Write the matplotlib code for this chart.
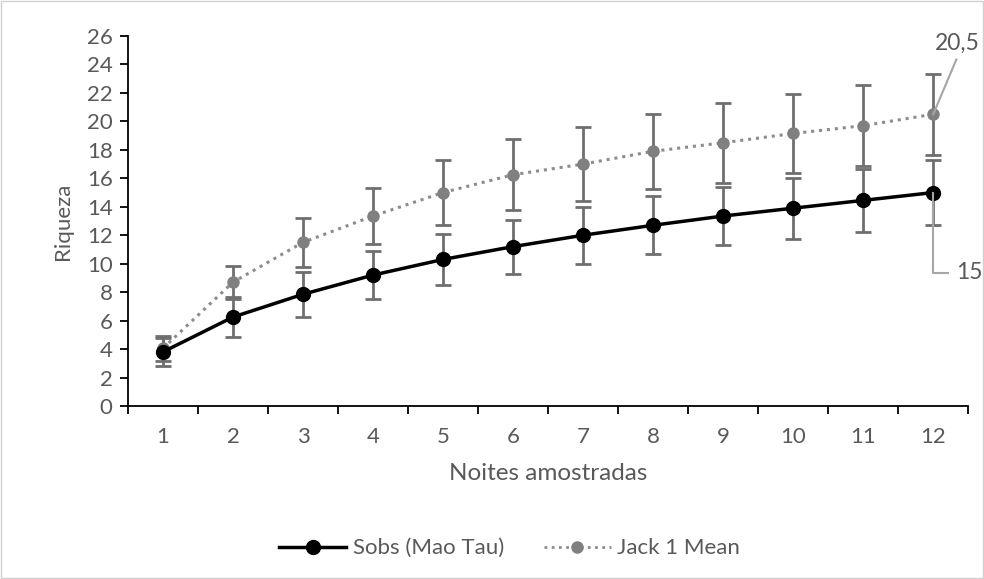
import matplotlib.pyplot as plt
from matplotlib.lines import Line2D
from matplotlib.patches import Rectangle
import numpy as np

plt.rcParams['font.family'] = ['Lato', 'DejaVu Sans']

# Data
nights = [1, 2, 3, 4, 5, 6, 7, 8, 9, 10, 11, 12]
sobs = [3.8, 6.25, 7.85, 9.2, 10.3, 11.2, 12.0, 12.7, 13.35, 13.9, 14.45, 15.0]
sobs_sd = [1.0, 1.4, 1.6, 1.7, 1.8, 1.9, 2.0, 2.05, 2.05, 2.15, 2.2, 2.3]
jack = [4.05, 8.7, 11.5, 13.35, 15.0, 16.25, 17.0, 17.9, 18.5, 19.15, 19.7, 20.5]
jack_sd = [0.9, 1.16, 1.7, 2.0, 2.3, 2.5, 2.6, 2.65, 2.8, 2.8, 2.85, 2.85]
y_ticks = list(range(0, 27, 2))

txt = '#595959'
err_col = '#6f6f6f'
lead = '#a6a6a6'

fig = plt.figure(figsize=(9.84, 5.79), dpi=100)
ax = fig.add_axes([0.130, 0.2988, 0.854, 0.639])

# Jack 1 (grey dotted)
ax.errorbar(nights, jack, yerr=jack_sd, fmt='none', ecolor=err_col, elinewidth=2,
            capsize=6, capthick=2, zorder=2)
ax.plot(nights, jack, color='#8c8c8c', lw=2.2, ls=(0, (1, 1.6)), marker='o',
        markersize=8, markerfacecolor='#808080', markeredgecolor='#808080', zorder=3)

# Sobs (black solid)
ax.errorbar(nights, sobs, yerr=sobs_sd, fmt='none', ecolor=err_col, elinewidth=2,
            capsize=6, capthick=2, zorder=2)
ax.plot(nights, sobs, color='black', lw=2.5, marker='o', markersize=10,
        markerfacecolor='black', markeredgecolor='black', zorder=4)

# data labels with leader lines
ax.plot([nights[-1], 12.33], [jack[-1], 24.35], color=lead, lw=1.5, zorder=5,
        clip_on=False)
ax.text(12.02, 25.45, '20,5', color=txt, fontsize=16.5, ha='left', va='center')
ax.plot([nights[-1], nights[-1], 12.21], [sobs[-1], 9.35, 9.35], color=lead, lw=1.5,
        zorder=5, clip_on=False)
ax.text(12.33, 9.35, '15', color=txt, fontsize=16.5, ha='left', va='center')

ax.set_xlim(0.5, 12.5)
ax.set_ylim(0, 26)
ax.set_yticks(y_ticks)
ax.set_xticks(nights)
ax.set_xticks(np.arange(0.5, 13, 1), minor=True)
ax.tick_params(axis='x', which='major', length=0, pad=15, labelsize=16, labelcolor=txt)
ax.tick_params(axis='x', which='minor', length=6, width=1.3, direction='out', color='black')
ax.tick_params(axis='y', length=6, width=1.3, direction='out', labelsize=16,
               labelcolor=txt, pad=5)

for s in ['top', 'right']:
    ax.spines[s].set_visible(False)
for s in ['left', 'bottom']:
    ax.spines[s].set_linewidth(1.3)

ax.set_ylabel('Riqueza', fontsize=16, color=txt, labelpad=10)
ax.set_xlabel('Noites amostradas', fontsize=17.5, color=txt, labelpad=12)

handles = [
    Line2D([], [], color='black', lw=2.5, marker='o', markersize=10),
    Line2D([], [], color='#8c8c8c', lw=2.0, ls=(0, (1, 1.6)), marker='o', markersize=8,
           markerfacecolor='#808080', markeredgecolor='#808080'),
]
fig.legend(handles, ['Sobs (Mao Tau)', 'Jack 1 Mean'], loc='center',
           bbox_to_anchor=(0.518, 0.053), ncol=2, frameon=False, fontsize=16,
           labelcolor=txt, handlelength=3.0, columnspacing=1.8, handletextpad=0.3)

# chart border
fig.patches.append(Rectangle((0.001, 0.001), 0.998, 0.997, transform=fig.transFigure,
                             fill=False, edgecolor='#d0d0d0', lw=1))

fig.savefig('out.png', dpi=100)
